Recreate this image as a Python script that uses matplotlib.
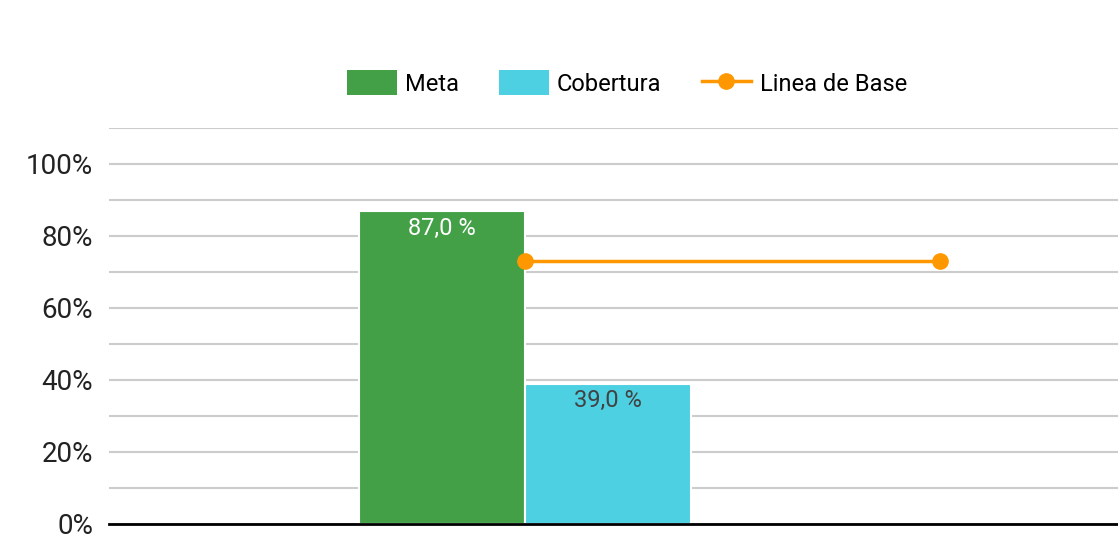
import matplotlib
matplotlib.use("Agg")
import matplotlib.pyplot as plt
import numpy as np
from matplotlib.patches import Patch
from matplotlib.lines import Line2D

plt.rcParams['font.family'] = ['Roboto', 'DejaVu Sans']

categories = ["", ""]
meta = [87.0, np.nan]
cobertura = [39.0, np.nan]
linea_base = [73.0, 73.0]

GREEN = "#43A047"
CYAN = "#4DD0E1"
ORANGE = "#FF9800"

fig = plt.figure(figsize=(11.18, 5.48), dpi=100)
ax = fig.add_axes([109/1118, 24/548, 1 - 109/1118, (524-128)/548])

x = np.arange(len(categories))
w = 0.4
ax.bar(x - w/2, meta, width=w, color=GREEN, edgecolor="white", linewidth=1.5, zorder=3)
ax.bar(x + w/2, cobertura, width=w, color=CYAN, edgecolor="white", linewidth=1.5, zorder=3)
ax.plot(x, linea_base, color=ORANGE, lw=2.5, marker="o", ms=11, zorder=4)

for xi, v in zip(x, meta):
    if not np.isnan(v):
        ax.text(xi - w/2, v - 1.6, f"{v:.1f} %".replace(".", ","), ha="center", va="top",
                color="white", fontsize=17, zorder=5)
for xi, v in zip(x, cobertura):
    if not np.isnan(v):
        ax.text(xi + w/2, v - 1.6, f"{v:.1f} %".replace(".", ","), ha="center", va="top",
                color="#424242", fontsize=17, zorder=5)

ax.set_xlim(-1.002, 1.429)
ax.set_ylim(0, 110)
ax.set_yticks([0, 20, 40, 60, 80, 100])
ax.set_yticklabels([f"{t}%" for t in [0, 20, 40, 60, 80, 100]], fontsize=20, color="#222222")
ax.set_yticks(np.arange(10, 111, 20), minor=True)
ax.grid(axis="y", which="both", color="#CCCCCC", lw=1.5, zorder=0)
ax.tick_params(axis="y", which="both", length=0, pad=11.5)
ax.set_xticks([])
for s in ["top", "right", "left"]:
    ax.spines[s].set_visible(False)
ax.spines["bottom"].set_color("black")
ax.spines["bottom"].set_linewidth(2)
ax.spines["bottom"].set_zorder(6)

handles = [Patch(facecolor=GREEN, label="Meta"),
           Patch(facecolor=CYAN, label="Cobertura"),
           Line2D([0], [0], color=ORANGE, lw=2.5, marker="o", ms=11, label="Linea de Base")]
fig.legend(handles=handles, loc="center", bbox_to_anchor=(627/1118, 1 - 83/548), ncol=3,
           frameon=False, fontsize=17, handlelength=2.1, handleheight=1.2,
           columnspacing=1.7, handletextpad=0.35)

fig.savefig("out.png", dpi=100)
